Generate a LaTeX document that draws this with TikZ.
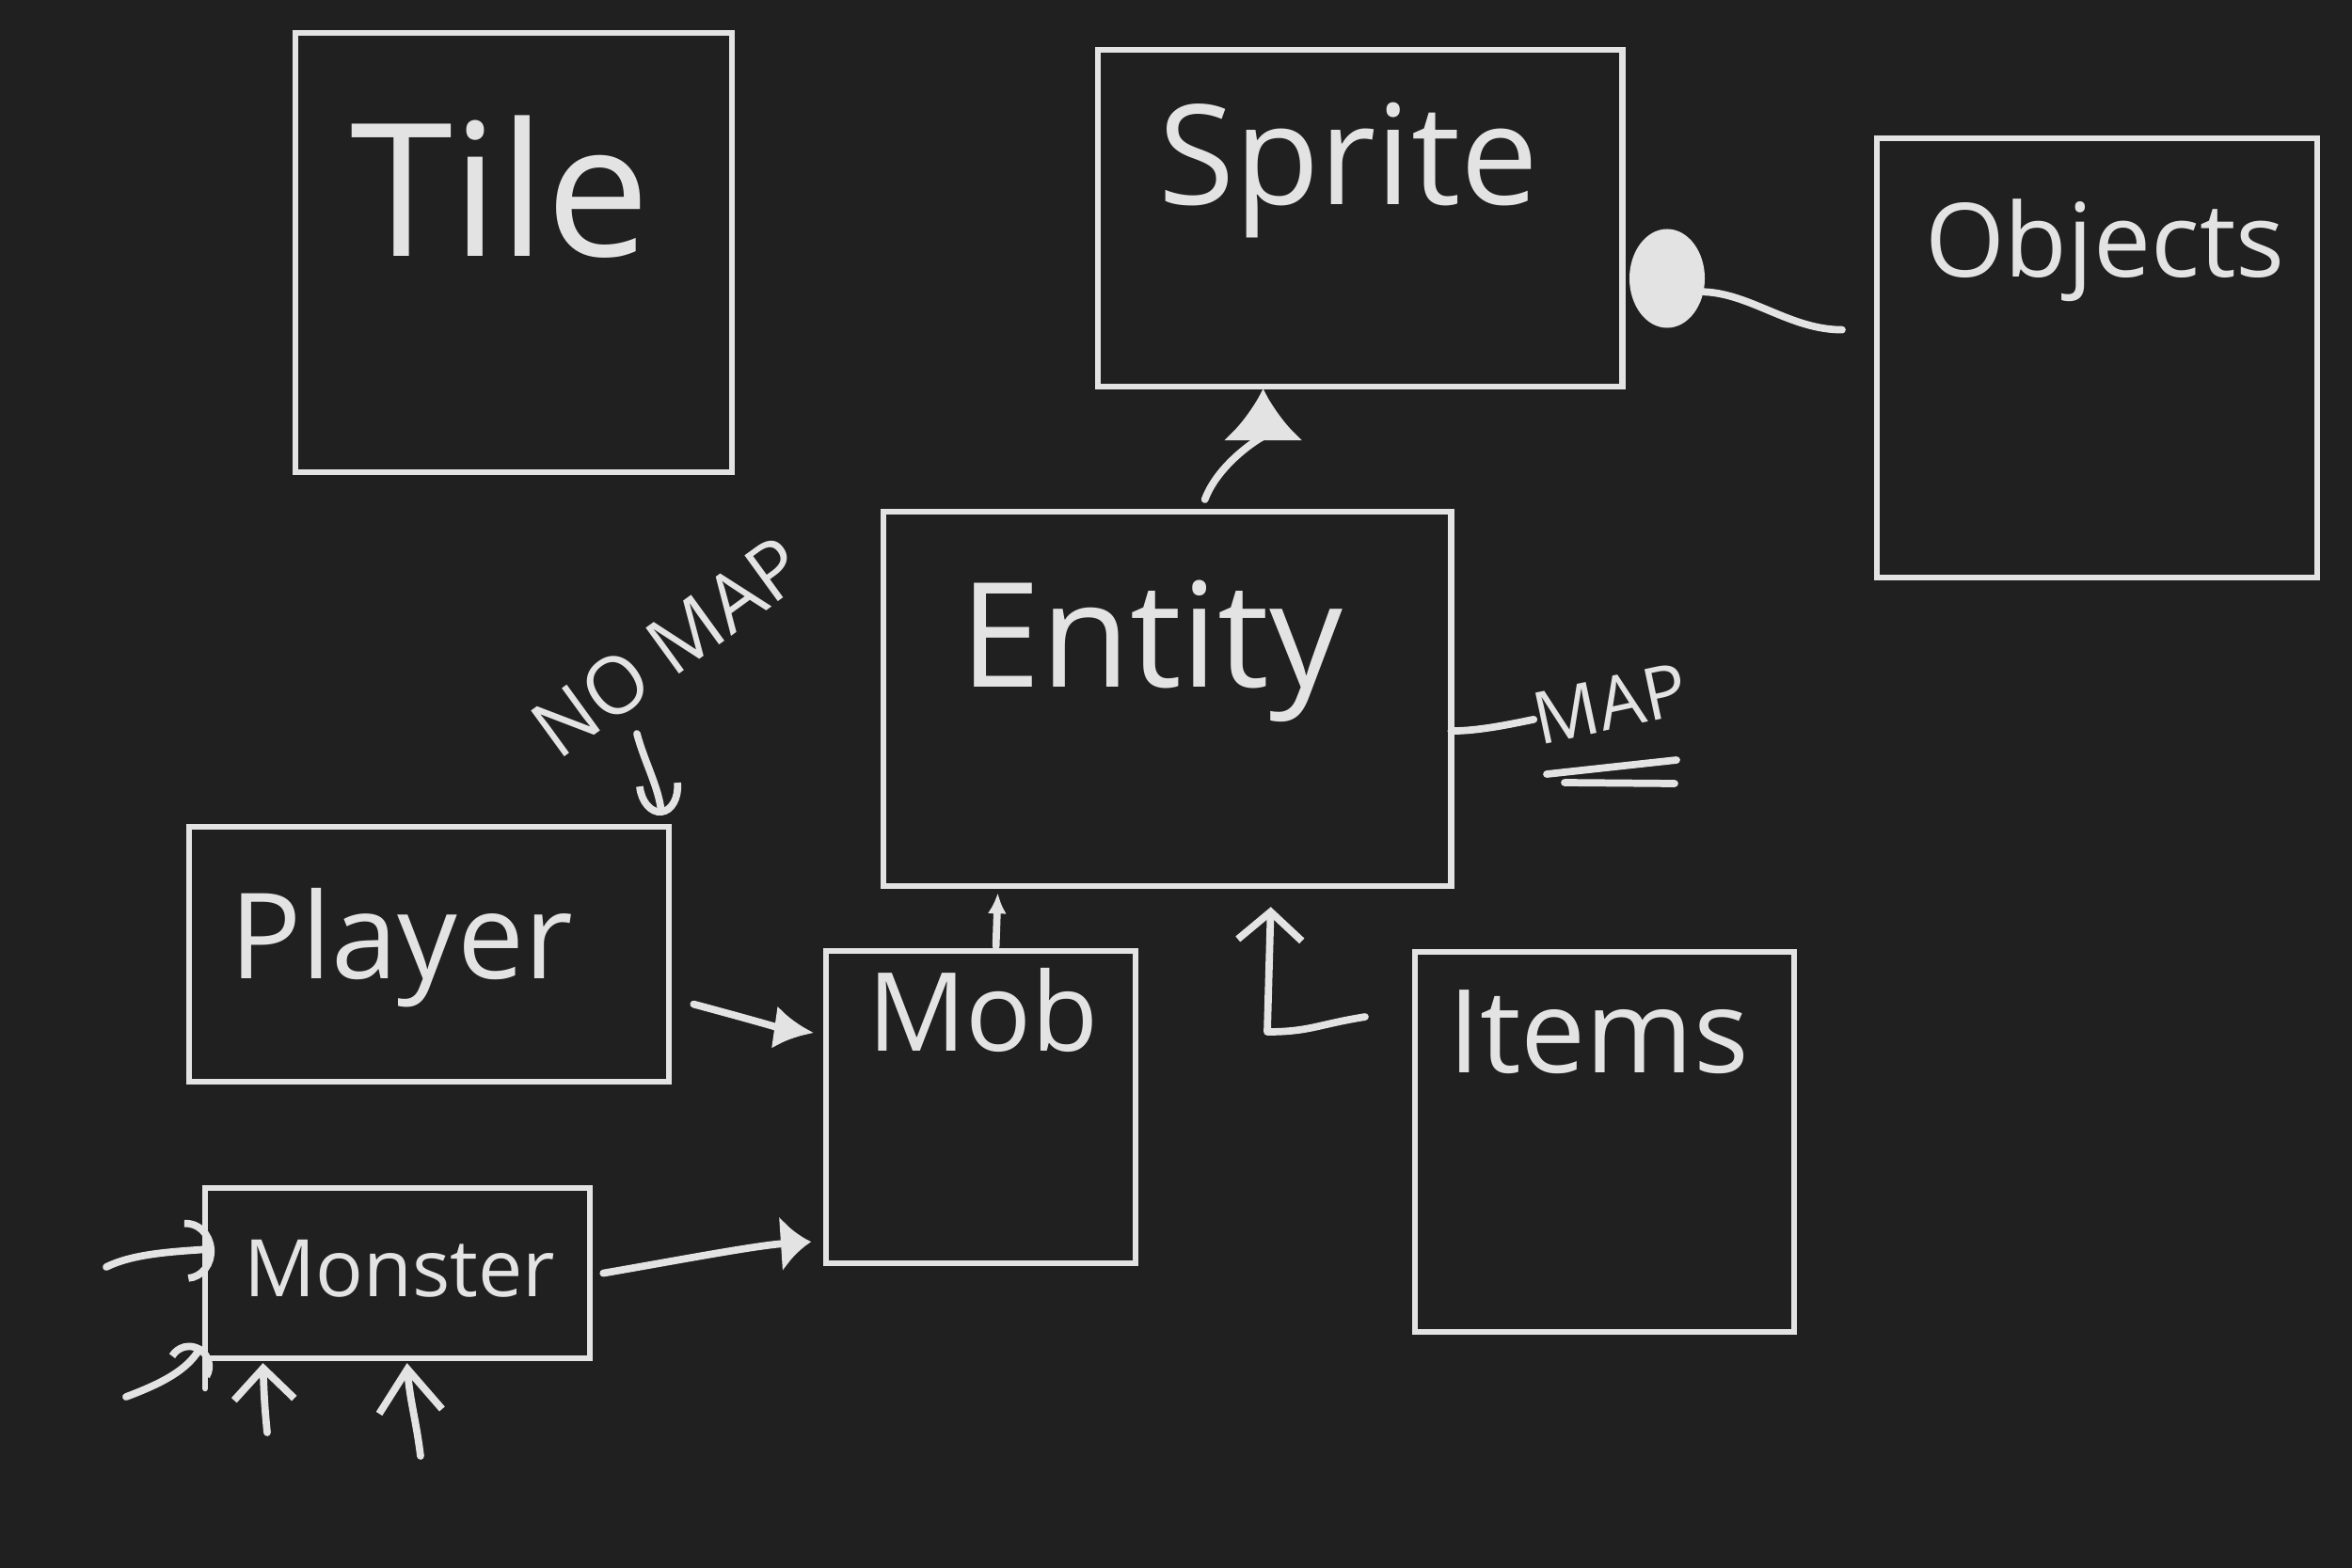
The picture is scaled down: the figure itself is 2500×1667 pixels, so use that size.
\documentclass[tikz,border=0pt]{standalone}
\usepackage{fontspec}
\setmainfont{Open Sans}
\usetikzlibrary{arrows.meta,calc,shapes.geometric}
\definecolor{bg}{HTML}{202020}
\definecolor{ink}{HTML}{E3E3E3}
\newcommand\fsz[1]{\fontsize{#1}{#1}\selectfont}
\begin{document}
\begin{tikzpicture}[x=0.01cm,y=-0.01cm,
  box/.style={draw=ink,line width=1.8pt,inner sep=0pt,outer sep=0pt,anchor=north west},
  boxline/.style={draw=ink,line width=1.8pt,line cap=round},
  lbl/.style={text=ink,inner sep=0pt,outer sep=0pt,anchor=base west},
  conn/.style={draw=ink,line width=2.2pt,line cap=round,line join=round},
]
\fill[bg] (0,0) rectangle (2500,1667);
\useasboundingbox (0,0) rectangle (2500,1667);

% boxes
\node[box,minimum width=4.64cm,minimum height=4.67cm] (tile) at (314,35) {};
\node[box,minimum width=5.57cm,minimum height=3.58cm] (sprite) at (1167,53) {};
\node[box,minimum width=4.68cm,minimum height=4.67cm] (objects) at (1995,147) {};
\node[box,minimum width=6.03cm,minimum height=3.98cm] (entity) at (939,544) {};
\node[box,minimum width=5.10cm,minimum height=2.71cm] (player) at (201,879) {};
\node[box,minimum width=3.29cm,minimum height=3.32cm] (mob) at (878,1011) {};
\node[box,minimum width=4.03cm,minimum height=4.04cm] (items) at (1504,1012) {};
\node[box,minimum width=4.09cm,minimum height=1.81cm] (monster) at (218,1263) {};
\draw[boxline] (monster.south west) -- ++(0,32);

% labels
\node[lbl] (tileT) at (372,273) {\fsz{56}Tile};
\node[lbl] (spriteT) at (1231,218) {\fsz{42}Sprite};
\node[lbl] (objectsT) at (2046,295) {\fsz{31}Objects};
\node[lbl] (entityT) at (1020,730) {\fsz{44}Entity};
\node[lbl] (playerT) at (244,1040) {\fsz{36}Player};
\node[lbl] (mobT) at (922,1117) {\fsz{33}Mob};
\node[lbl] (itemsT) at (1539,1140) {\fsz{35}Items};
\node[lbl] (monsterT) at (259,1378) {\fsz{24}Monster};
\node[text=ink,inner sep=0pt,rotate=36] (nomap) at (710,688) {\fsz{24}NO MAP};
\node[lbl,rotate=12] (maptext) at (1636,792) {\fsz{22}MAP};
\draw[conn] (1644,823) -- (1782,808);
\draw[conn] (1663,832) -- (1780,833);

% Objects -> Sprite (filled blob)
\node[fill=ink,ellipse,minimum width=0.8cm,minimum height=1.05cm,inner sep=0pt] (blob) at (1772,296) {};
\draw[conn] ([xshift=-0.37cm,yshift=0.30cm]objects.west) .. controls +(-55,0) and +(50,2) .. (blob.-20);

% Entity -> Sprite
\draw[conn,-{Latex[length=0.55cm,width=0.85cm]}] ([xshift=0.4cm,yshift=0.13cm]entity.north) .. controls +(15,-40) and +(0,50) .. ([xshift=-1.03cm,yshift=-0.02cm]sprite.south);

% Entity -> MAP
\draw[conn] ([yshift=-0.34cm]entity.east) .. controls +(30,0) and +(-25,5) .. (maptext.west);

% Mob -> Entity
\draw[conn,-{Latex[length=0.22cm,width=0.2cm]}] ([xshift=0.16cm,yshift=0.05cm]mob.north) -- ([xshift=-1.8cm,yshift=-0.07cm]entity.south);

% Items -> Entity
\draw[conn,-{Straight Barb[length=0.3cm,width=0.68cm]}] ([xshift=-0.53cm,yshift=1.33cm]items.west) .. controls +(-50,8) and +(45,0) .. (1347,1097) -- ([xshift=1.1cm,yshift=-0.22cm]entity.south);

% Player -> Mob
\draw[conn,-{Latex[length=0.42cm,width=0.46cm]}] ([xshift=0.26cm,yshift=-0.53cm]player.east) .. controls +(45,12) and +(-35,-5) .. ([xshift=-0.13cm,yshift=0.79cm]mob.west);

% Monster -> Mob
\draw[conn,-{Latex[length=0.32cm,width=0.6cm]}] ([xshift=0.14cm]monster.east) .. controls +(70,-12) and +(-60,4) .. ([xshift=-0.16cm,yshift=-1.43cm]mob.west);

% NO MAP -> Player
\draw[conn,-{Arc Barb[length=0.33cm,width=0.48cm]}] ([xshift=-0.33cm,yshift=-0.92cm]nomap.center) .. controls +(8,30) and +(-3,-30) .. ([xshift=2.47cm,yshift=0.12cm]player.north);

% incoming arrows to Monster
\coordinate (m1) at (113,1347);
\coordinate (m2) at (134,1485);
\coordinate (m3) at (284,1523);
\coordinate (m4) at (447,1548);
\draw[conn,-{Arc Barb[length=0.3cm,width=0.66cm]}] (m1) .. controls +(30,-15) and +(-40,3) .. ([xshift=0.1cm,yshift=0.26cm]monster.west);
\draw[conn,-{Arc Barb[length=0.25cm,width=0.5cm]}] (m2) .. controls +(40,-15) and +(-15,25) .. ([xshift=-0.04cm,yshift=0.13cm]monster.south west);
\draw[conn,-{Straight Barb[length=0.33cm,width=0.64cm]}] (m3) .. controls +(-3,-30) and +(1,30) .. ([xshift=-1.43cm,yshift=-0.05cm]monster.south);
\draw[conn,-{Straight Barb[length=0.45cm,width=0.67cm]}] (m4) .. controls +(-5,-40) and +(3,40) .. ([xshift=0.1cm,yshift=-0.05cm]monster.south);
\end{tikzpicture}
\end{document}
